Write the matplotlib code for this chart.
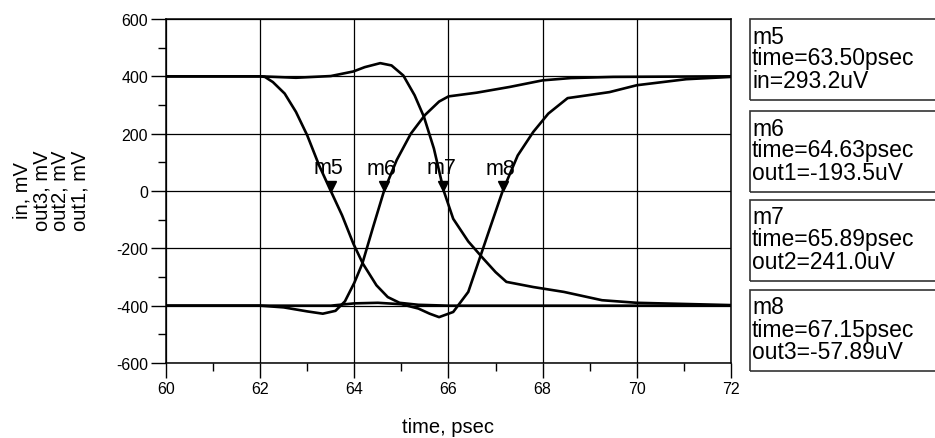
import matplotlib
matplotlib.use("Agg")
import matplotlib.pyplot as plt
import matplotlib.transforms as mtransforms
from matplotlib.patches import Rectangle
from matplotlib.ticker import MultipleLocator

plt.rcParams['font.family'] = ['Liberation Sans', 'DejaVu Sans']
plt.rcParams['axes.unicode_minus'] = False

# traces (time in psec, voltage in mV)
t_in = [60, 62, 62.1, 62.27, 62.52, 62.76, 63.0, 63.25, 63.5, 63.74, 63.98, 64.18, 64.47, 64.71, 64.96, 65.36, 66, 72]
v_in = [400, 400, 398, 380, 340, 276, 194, 90, 0, -85, -184, -253, -329, -370, -390, -397, -400, -400]

t_out1 = [60, 62, 62.5, 63.0, 63.33, 63.6, 63.8, 64.0, 64.17, 64.4, 64.63, 64.9, 65.2, 65.5, 65.8, 66.0,
          66.6, 67.3, 68.0, 68.6, 69.5, 72]
v_out1 = [-400, -400, -406, -420, -428, -418, -385, -320, -253, -125, 0, 108, 200, 265, 312, 330,
          343, 363, 386, 394, 398, 400]

t_out2 = [60, 62, 62.76, 63.5, 63.98, 64.22, 64.55, 64.79, 65.04, 65.28, 65.48, 65.69, 65.9, 66.1, 66.42,
          66.74, 67.0, 67.23, 67.8, 68.45, 69.26, 70, 72]
v_out2 = [400, 400, 395, 401, 417, 432, 446, 438, 403, 334, 258, 148, 0, -97, -176,
          -236, -283, -317, -335, -352, -381, -390, -398]

t_out3 = [60, 63.5, 64.0, 64.5, 65.0, 65.36, 65.6, 65.8, 66.1, 66.42, 66.66, 66.9, 67.15, 67.47, 67.8,
          68.12, 68.53, 69.0, 69.42, 70, 71.05, 72]
v_out3 = [-400, -400, -392, -390, -395, -410, -428, -440, -422, -352, -236, -120, 0, 124, 206,
          270, 324, 335, 345, 369, 390, 398]

# markers
marker_names = ['m5', 'm6', 'm7', 'm8']
marker_traces = ['in', 'out1', 'out2', 'out3']
marker_times = [63.50, 64.63, 65.89, 67.15]
marker_uV = [293.2, -193.5, 241.0, -57.89]

W, H = 935, 439
fig = plt.figure(figsize=(W / 100, H / 100), dpi=100)
ax = fig.add_axes([166 / W, 1 - 364 / H, (731 - 166) / W, (364 - 20) / H])

for t, v in [(t_in, v_in), (t_out1, v_out1), (t_out2, v_out2), (t_out3, v_out3)]:
    ax.plot(t, v, color='black', lw=1.9, solid_joinstyle='round')

ax.set_xlim(60, 72)
ax.set_ylim(-600, 600)
ax.xaxis.set_major_locator(MultipleLocator(2))
ax.xaxis.set_minor_locator(MultipleLocator(1))
ax.yaxis.set_major_locator(MultipleLocator(200))
ax.yaxis.set_minor_locator(MultipleLocator(100))
ax.grid(True, which='major', color='black', lw=0.9)
ax.tick_params(which='major', direction='out', length=11, width=1, labelsize=11.5, pad=2)
ax.tick_params(which='minor', direction='out', length=6, width=1)
for s in ax.spines.values():
    s.set_linewidth(1.1)

ax.set_xlabel('time, psec', fontsize=14.5, labelpad=15)
fig.text(51 / W, 1 - 191 / H, 'in, mV\nout3, mV\nout2, mV\nout1, mV', rotation=90,
         ha='center', va='center', multialignment='center', fontsize=14.5, linespacing=1.0)

# marker triangles, apex on the trace
tri = mtransforms.offset_copy(ax.transData, fig=fig, y=5.2, units='dots')
for name, t, uv in zip(marker_names, marker_times, marker_uV):
    ax.plot([t], [uv / 1000], marker='v', ms=7.5, color='black', transform=tri, zorder=5)
    ax.annotate(name, (t, uv / 1000), xytext=(-2, 23), textcoords='offset pixels',
                ha='center', va='center', fontsize=15.5)

# readout boxes on the right
box_tops = [20, 112, 201, 291]
for top, name, tr, t, uv in zip(box_tops, marker_names, marker_traces, marker_times, marker_uV):
    fig.add_artist(Rectangle((750 / W, 1 - (top + 81) / H), 200 / W, 81 / H,
                             transform=fig.transFigure, fill=False, ec='#333333', lw=1.2))
    lines = [name, 'time={:.2f}psec'.format(t), '{}={}uV'.format(tr, format(uv, '#.4g'))]
    for off, line in zip([17, 39, 62], lines):
        fig.text(752 / W, 1 - (top + off) / H, line, ha='left', va='center', fontsize=16.5)

fig.savefig('out.png', dpi=100)
